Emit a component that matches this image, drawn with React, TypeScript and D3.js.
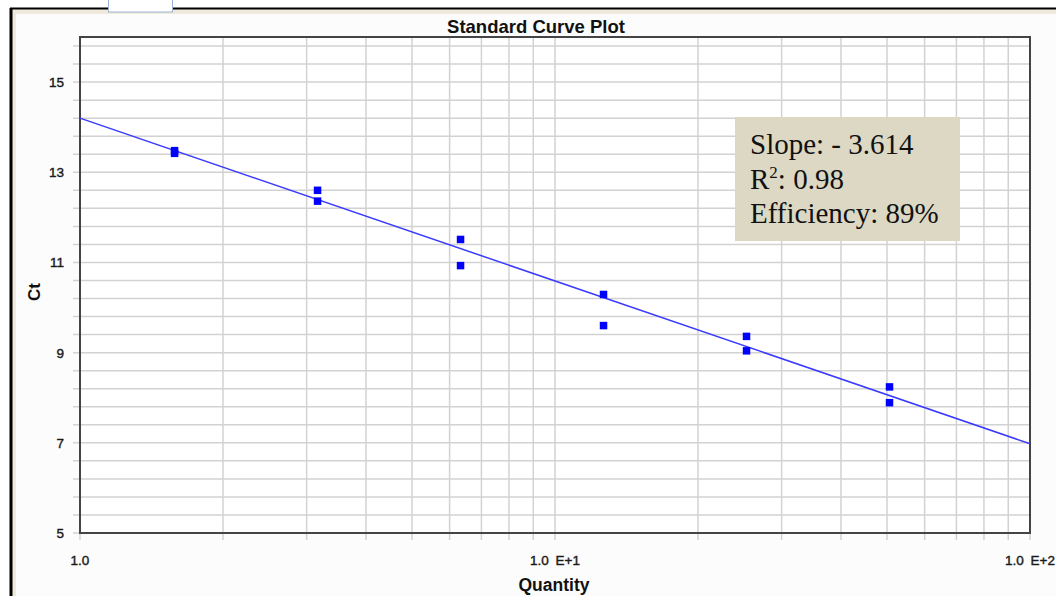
import React, { useEffect, useRef } from 'react';
import * as d3 from 'd3';

// Dilution series (quantity) and measured Ct replicates
const quantities = [1.5625, 1.5625, 3.125, 3.125, 6.25, 6.25, 12.5, 12.5, 25, 25, 50, 50];
const ctValues = [13.48, 13.42, 12.6, 12.36, 11.51, 10.93, 10.29, 9.6, 9.36, 9.04, 8.24, 7.89];

// Fitted standard curve endpoints
const fitQuantity = [1, 100];
const fitCt = [14.2, 6.98];

const yTickLabels = [5, 7, 9, 11, 13, 15];
const yMinorStep = 0.4;
const xTickLabels = [
  { value: 1, label: '1.0' },
  { value: 10, label: '1.0 E+1' },
  { value: 100, label: '1.0 E+2' },
];

const statsLines = ['Slope: - 3.614', 'R²: 0.98', 'Efficiency: 89%'];

export default function App() {
  const ref = useRef<SVGSVGElement>(null);

  useEffect(() => {
    if (!ref.current) return;
    const svg = d3.select(ref.current);
    svg.selectAll('*').remove();

    const W = 1056, H = 596;
    const left = 80, right = 1030, top = 37, bottom = 533;
    const sans = 'Arial, Liberation Sans, sans-serif';

    const x = d3.scaleLog().domain([1, 100]).range([left, right]);
    const y = d3.scaleLinear().domain([5, 16]).range([bottom, top]);

    // window chrome
    svg.append('rect').attr('width', W).attr('height', H).attr('fill', '#ffffff');
    svg.append('rect').attr('x', 12).attr('y', 9).attr('width', W - 12).attr('height', H - 9).attr('fill', '#fcfcfc');
    svg.append('rect').attr('x', 12).attr('y', 9).attr('width', W - 12).attr('height', 5).attr('fill', '#efeadb');
    svg.append('rect').attr('x', 12).attr('y', 9).attr('width', 4).attr('height', H - 9).attr('fill', '#efeadb');
    svg.append('line').attr('x1', 10).attr('x2', W).attr('y1', 8.5).attr('y2', 8.5).attr('stroke', '#000').attr('stroke-width', 2);
    svg.append('line').attr('x1', 11).attr('x2', 11).attr('y1', 8).attr('y2', H).attr('stroke', '#000').attr('stroke-width', 3);
    svg.append('rect').attr('x', 108.5).attr('y', -2).attr('width', 64).attr('height', 14)
      .attr('fill', '#ffffff').attr('stroke', '#9db4d8').attr('stroke-width', 1);

    // plot background
    svg.append('rect').attr('x', left).attr('y', top).attr('width', right - left).attr('height', bottom - top).attr('fill', '#ffffff');

    // vertical grid (log decades)
    const xGrid: number[] = [];
    [1, 10].forEach(dec => d3.range(1, 10).forEach(m => xGrid.push(dec * m)));
    xGrid.push(100);
    svg.append('g').selectAll('line').data(xGrid).join('line')
      .attr('x1', d => x(d)).attr('x2', d => x(d))
      .attr('y1', top).attr('y2', bottom + 7)
      .attr('stroke', '#d2d2d2').attr('stroke-width', 1.5);

    // horizontal grid
    const yGrid = d3.range(0, 28).map(i => 5 + i * yMinorStep);
    svg.append('g').selectAll('line').data(yGrid).join('line')
      .attr('x1', left - 7).attr('x2', right)
      .attr('y1', d => y(d)).attr('y2', d => y(d))
      .attr('stroke', '#d2d2d2').attr('stroke-width', 1.5);

    // frame
    svg.append('rect').attr('x', left).attr('y', top).attr('width', right - left).attr('height', bottom - top)
      .attr('fill', 'none').attr('stroke', '#444').attr('stroke-width', 2);

    // y tick labels
    svg.append('g').selectAll('text').data(yTickLabels).join('text')
      .attr('x', left - 16).attr('y', d => y(d) + 5)
      .attr('text-anchor', 'end')
      .attr('font-family', sans)
      .attr('font-size', 13.5).attr('fill', '#1a1a1a')
      .attr('stroke', '#1a1a1a').attr('stroke-width', 0.4)
      .text(d => d);

    // x tick labels
    svg.append('g').selectAll('text').data(xTickLabels).join('text')
      .attr('x', d => x(d.value)).attr('y', 565)
      .attr('text-anchor', 'middle')
      .attr('font-family', sans)
      .attr('font-size', 13.5).attr('word-spacing', 3).attr('fill', '#1a1a1a')
      .attr('stroke', '#1a1a1a').attr('stroke-width', 0.4)
      .text(d => d.label);

    // titles
    svg.append('text').attr('x', 536).attr('y', 33).attr('text-anchor', 'middle')
      .attr('font-family', sans).attr('font-size', 18.5).attr('font-weight', 'bold')
      .attr('fill', '#111').text('Standard Curve Plot');
    svg.append('text').attr('x', 554).attr('y', 591).attr('text-anchor', 'middle')
      .attr('font-family', sans).attr('font-size', 17.5).attr('font-weight', 'bold')
      .attr('fill', '#111').text('Quantity');
    svg.append('text').attr('transform', 'translate(40,292) rotate(-90)').attr('text-anchor', 'middle')
      .attr('font-family', sans).attr('font-size', 17).attr('font-weight', 'bold')
      .attr('fill', '#111').text('Ct');

    // fitted line
    const line = d3.line<number>().x(d => x(fitQuantity[d])).y(d => y(fitCt[d]));
    svg.append('path').attr('d', line([0, 1])).attr('fill', 'none')
      .attr('stroke', '#3a3aff').attr('stroke-width', 1.5);

    // points
    const s = 7.5;
    svg.append('g').selectAll('rect').data(quantities).join('rect')
      .attr('x', d => x(d) - s / 2 + 2.5).attr('y', (_, i) => y(ctValues[i]) - s / 2)
      .attr('width', s).attr('height', s).attr('fill', '#0000ff');

    // stats box
    const box = svg.append('g');
    box.append('rect').attr('x', 735).attr('y', 117).attr('width', 225).attr('height', 124).attr('fill', '#dcd8c4');
    const t = box.append('g').attr('font-family', 'Liberation Serif, Times New Roman, serif').attr('font-size', 29).attr('fill', '#111');
    t.append('text').attr('x', 750).attr('y', 154).text(statsLines[0]);
    const r2 = t.append('text').attr('x', 750).attr('y', 189);
    r2.append('tspan').text('R');
    r2.append('tspan').attr('font-size', 17).attr('dy', -11).text('2');
    r2.append('tspan').attr('dy', 11).text(': 0.98');
    t.append('text').attr('x', 750).attr('y', 223).text(statsLines[2]);
  }, []);

  return (
    <div style={{ position: 'absolute', left: 0, top: 0 }}>
      <svg ref={ref} width={1056} height={596} style={{ display: 'block' }} />
    </div>
  );
}
